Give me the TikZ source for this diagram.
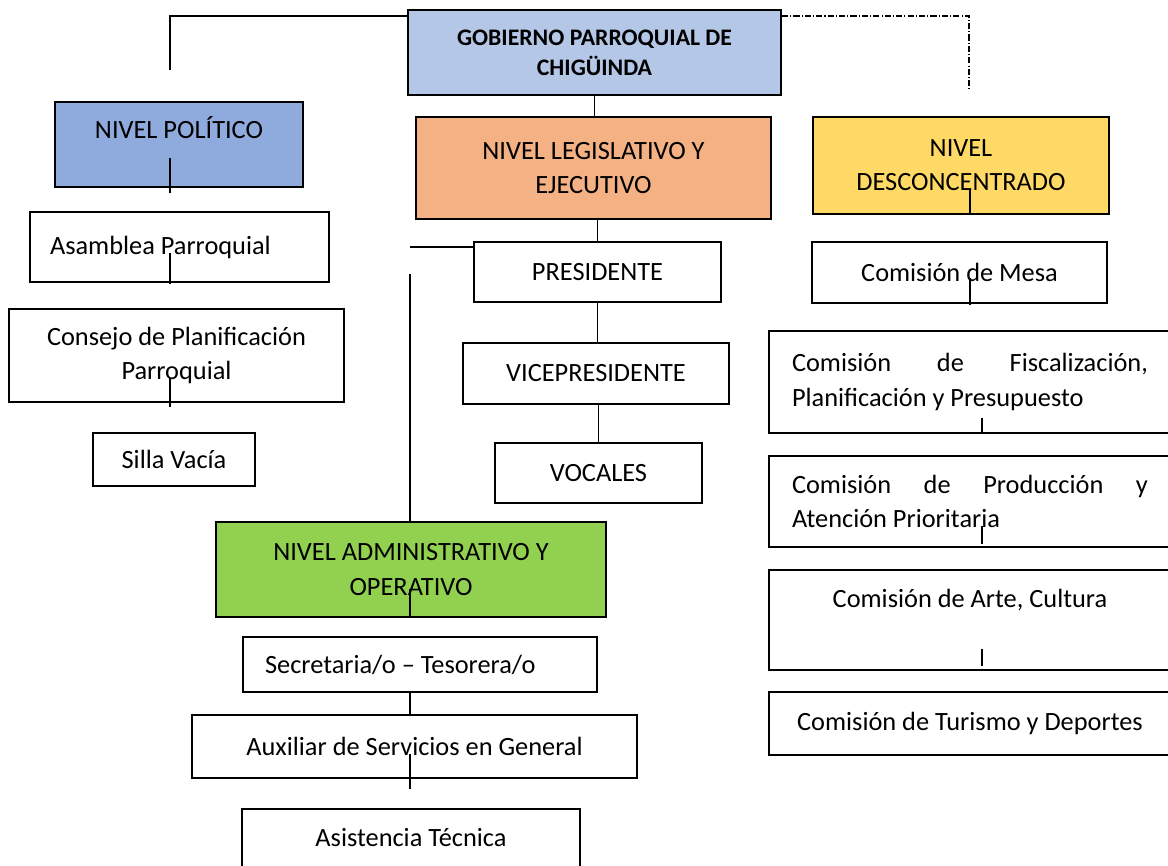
\documentclass[tikz,border=0pt]{standalone}
\usepackage{fontspec}
\setmainfont{Carlito}
\usetikzlibrary{calc,positioning}
\definecolor{govblue}{HTML}{B4C7E7}
\definecolor{polblue}{HTML}{8FAADC}
\definecolor{legorange}{HTML}{F4B183}
\definecolor{admgreen}{HTML}{92D050}
\definecolor{descyellow}{HTML}{FFD966}
\newcommand{\orgfont}{\fontsize{15}{19.5}\selectfont}
\tikzset{
  box/.style={draw=black,line width=1.1pt,fill=white,inner sep=0pt,align=center,font=\orgfont},
  govbox/.style={box,fill=govblue,font=\fontsize{13.5}{17}\selectfont\bfseries},
  lvlbox/.style={box,fill=#1},
  wordbox/.style={box,align=flush left,text width=#1},
  comibox/.style={box,minimum width=8.04cm},
  conn/.style={line width=0.9pt},
  stub/.style={line width=0.6pt},
  dashdot line/.style={line width=0.6pt,dash pattern=on 3.5pt off 1.2pt on 0.6pt off 1.2pt},
}
\begin{document}
\begin{tikzpicture}[x=0.02cm,y=-0.02cm]
  \useasboundingbox (0,0) rectangle (1168,865);
  % gobierno
  \node[govbox,minimum width=7.46cm,minimum height=1.7cm] (gob) at (594.5,52.5) {GOBIERNO PARROQUIAL DE\\CHIGÜINDA};
  % nivel politico
  \node[lvlbox=polblue,minimum width=4.96cm,minimum height=1.7cm] (pol) at (179,144.5) {NIVEL POLÍTICO\\\mbox{}};
  \node[wordbox=5.18cm,inner xsep=0.4cm,minimum height=1.4cm] (asam) at (179.5,247) {Asamblea Parroquial};
  \node[box,minimum width=6.7cm,minimum height=1.86cm] (cons) at (176.5,355.5) {Consejo de Planificación\\Parroquial};
  \node[box,minimum width=3.24cm,minimum height=1.06cm] (silla) at (174,459.5) {Silla Vacía};
  % nivel legislativo y ejecutivo
  \node[lvlbox=legorange,minimum width=7.1cm,minimum height=2.04cm] (leg) at (593.5,168) {NIVEL LEGISLATIVO Y\\EJECUTIVO};
  \node[box,minimum width=4.94cm,minimum height=1.2cm] (pres) at (597.5,272) {PRESIDENTE};
  \node[box,minimum width=5.32cm,minimum height=1.22cm] (vice) at (596,373.5) {VICEPRESIDENTE};
  \node[box,minimum width=4.14cm,minimum height=1.2cm] (voc) at (598.5,473) {VOCALES};
  % nivel administrativo
  \node[lvlbox=admgreen,minimum width=7.8cm,minimum height=1.9cm] (adm) at (411,569.5) {NIVEL ADMINISTRATIVO Y\\OPERATIVO};
  \node[wordbox=6.2cm,inner xsep=0.44cm,minimum height=1.1cm] (sec) at (420,664.5) {Secretaria/o – Tesorera/o};
  \node[box,minimum width=8.9cm,minimum height=1.26cm] (aux) at (414.5,746.5) {Auxiliar de Servicios en General};
  \node[box,minimum width=6.76cm,minimum height=1.16cm] (asis) at (411,838) {Asistencia Técnica};
  % nivel desconcentrado
  \node[lvlbox=descyellow,minimum width=5.92cm,minimum height=1.94cm] (desc) at (961,165.5) {NIVEL\\DESCONCENTRADO};
  \node[box,minimum width=5.9cm,minimum height=1.22cm] (mesa) at (959.5,272.5) {Comisión de Mesa};
  \node[wordbox=7.12cm,inner xsep=0.46cm,minimum height=2.04cm] (fisc) at (970,382) {\hbox to \linewidth{Comisión\hfill de\hfill Fiscalización,}\\Planificación y Presupuesto};
  \node[wordbox=7.12cm,inner xsep=0.46cm,minimum height=1.82cm] (prod) at (970,501.5) {\hbox to \linewidth{Comisión\hfill de\hfill Producción\hfill y}\\Atención Prioritaria};
  \node[comibox,minimum height=2cm] (arte) at (970,620) {Comisión de Arte, Cultura\\[5pt]\mbox{}};
  \node[comibox,minimum height=1.26cm] (tur) at (970,723.5) {Comisión de Turismo y Deportes};

  % connectors
  \coordinate (pltop) at (170,16);
  \coordinate (plend) at (170,70);
  \draw[conn] (plend) -- (pltop) -- (pltop -| gob.west);
  \coordinate (ddtop) at (969,16);
  \coordinate (ddend) at (969,90);
  \draw[dashdot line] (gob.east |- ddtop) -- (ddtop) -- (ddend);
  \draw[conn] (gob.south) -- (gob.south |- leg.north);
  \draw[conn] (pres.north) -- (pres.north |- leg.south);
  \draw[conn] (pres.south) -- (pres.south |- vice.north);
  \draw[conn] (voc.north) -- (voc.north |- vice.south);
  \coordinate (hl) at (410,247);
  \coordinate (vl) at (410,274);
  \draw[conn] (hl) -- (hl -| pres.west);
  \draw[conn] (vl) -- (vl |- adm.north);
  \draw[conn] (sec.south -| vl) -- (aux.north -| vl);
  % stubs
  \draw[stub] ($(pol.south)+(-9,-30)$) -- ++(0,35);
  \draw[stub] ($(asam.south)+(-9.5,-30)$) -- ++(0,31);
  \draw[stub] ($(cons.south)+(-6.5,-25)$) -- ++(0,29);
  \draw[stub] ($(adm.south)+(-1,-29)$) -- ++(0,27);
  \draw[stub] ($(aux.south)+(-4.5,-25)$) -- ++(0,35);
  \draw[stub] ($(desc.south)+(9,-25)$) -- ++(0,25);
  \draw[stub] ($(mesa.south)+(10.5,-26)$) -- ++(0,27);
  \draw[stub] ($(fisc.south)+(12,-16)$) -- ++(0,16);
  \draw[stub] ($(prod.south)+(12,-22)$) -- ++(0,18);
  \draw[stub] ($(arte.south)+(12,-22)$) -- ++(0,17);
\end{tikzpicture}
\end{document}
